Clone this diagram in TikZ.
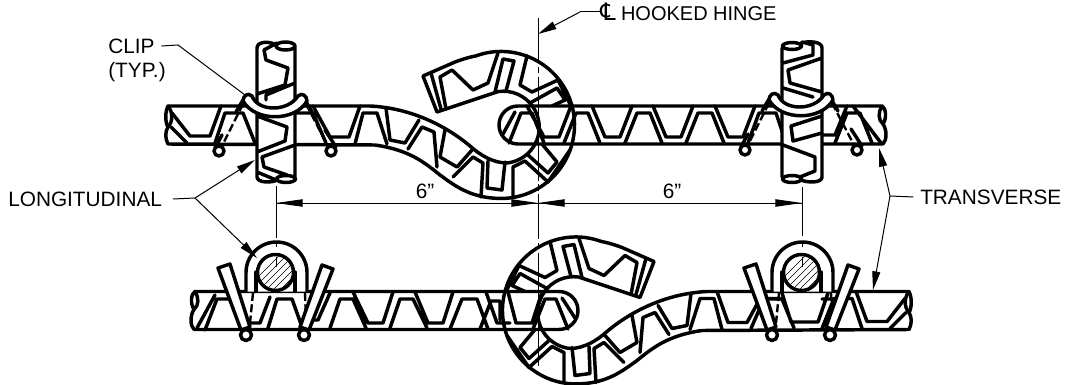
\documentclass[tikz,border=0pt]{standalone}
\usepackage{fontspec}
\setmainfont{Liberation Sans}
\newfontfamily\symfont{DejaVu Sans}
\usetikzlibrary{arrows.meta}
\tikzset{
  thk/.style={line width=2.6pt,line join=round,line cap=round},
  thn/.style={line width=0.75pt},
  dsh/.style={line width=1.8pt,dash pattern=on 6pt off 2.5pt},
  cl/.style={line width=0.75pt,dash pattern=on 34pt off 2.5pt on 5pt off 2.5pt},
  tag/.style={font=\fontsize{15.6}{19}\selectfont,inner sep=0pt},
  tipd/.style={-{Triangle[length=20pt,width=5.5pt]}},
  tipl/.style={-{Triangle[length=14pt,width=6pt]}}
}
% ---- outline of bar A with S-bend and hook
\newcommand{\hookoutline}{(168,106) -- (370,106) .. controls (410,108) and (445,125) .. (470,146) .. controls (480,155) and (493,163) .. (507,163)
  arc[start angle=84,end angle=-98,radius=36] -- (437,112) -- (423,76) -- (455,62) .. controls (463,59) and (470,57) .. (475.9,55.9)
  arc[start angle=-110,end angle=94,radius=73.5] .. controls (470,197) and (455,186) .. (440,175) .. controls (425,163) and (410,150) .. (375,145) -- (168,144)}
\newcommand{\hooklines}{
  \fill[white] \hookoutline .. controls (165,138) and (165,132) .. (168,127) .. controls (165,122) and (165,112) .. (168,106);
  \draw[thk]
   (172,113) -- (190,136) -- (210,136) -- (221,106)
   (171,127) -- (187,143)
   (215,143) -- (225,113) -- (243,113) -- (255,143)
   (296,113) -- (313,113) -- (326,143)
   (313,106) -- (330,137) -- (349,137) -- (360,106)
   (355,144) -- (363,113) -- (377,113) -- (387,144)
   (386,108) -- (390,140) -- (405,143) -- (419,120)
   (408,149) -- (422,127) -- (434,132) -- (437,167)
   (445,130) -- (440,157) -- (457,167) -- (472,150)
   (453,177) -- (473,157) -- (483,163) -- (481,197)
   (488,161) -- (487,188) -- (502,190) -- (505,162)
   (513,197) -- (513,167) -- (525,161) -- (548,182) -- (570,150)
   (528,155) -- (548,173) -- (557,162) -- (542,144)
   (527,56) -- (520,85) -- (532,92) -- (558,80) -- (571,106)
   (530,103) -- (557,88) -- (565,100) -- (552,106)
   (495,92) -- (503,59) -- (514,61) -- (506,91)
   (446,109) -- (440,77) -- (452,70) -- (473,90) -- (488,83) -- (498,53)
   (431,73) -- (441,109);
}
% ---- bar B outline: rounded left end, broken right end
\newcommand{\barB}{
  \fill[white] (518,106) arc[start angle=-90,end angle=-270,radius=19] -- (884,144) -- (884,106) -- cycle;
  \draw[thk] (883,144) -- (518,144) arc[start angle=90,end angle=270,radius=19] -- (882,106)
     .. controls (886,108) and (887,118) .. (883,124) .. controls (887,130) and (887,140) .. (883,144)
     (882,106) .. controls (878,112) and (878,120) .. (883,124);
}
\newcommand{\hookdraw}{
  \draw[thk] \hookoutline .. controls (165,138) and (165,132) .. (168,127) .. controls (165,122) and (165,112) .. (168,106);
  \draw[thk] (168,106) .. controls (173,112) and (173,122) .. (168,127);
}
% ---- clip of the top view
\newcommand{\clipband}{
  \draw[dsh] (243,104) -- (222,146);
  \draw[dsh] (306,104) -- (328,146);
  \draw[thk] (243,100) -- (236,112) (305,100) -- (312,112) (215,148) -- (222,135) (336,147) -- (325,130);
  \draw[thk,fill=white] (219,151) circle[radius=5];
  \draw[thk,fill=white] (331,151) circle[radius=5];
  \draw[thk,fill=white] (243,101) .. controls (243,96) and (248,92) .. (252,96) .. controls (258,112) and (288,112) .. (298,96)
     .. controls (302,92) and (307,96) .. (307,101) .. controls (295,122) and (255,122) .. (243,101) -- cycle;
}
% ---- section of the longitudinal bar with clip, bottom view
\newcommand{\sectionview}{
  \draw[dsh] (253,293) -- (250,323) (305,293) -- (306,320);
  \draw[thk,fill=white] (218,268) -- (230,264) -- (250,327) -- (241,330) -- cycle;
  \draw[thk,fill=white] (322,265) -- (333,269) -- (309,330) -- (300,327) -- cycle;
  \draw[thk,fill=white] (246,335) circle[radius=5.5];
  \draw[thk,fill=white] (304,335) circle[radius=5.5];
  \draw[thk,fill=white] (246,291.5) -- (246,272.5) arc[start angle=180,end angle=360,radius=30.5] -- (307,291.5);
  \draw[thk] (256,272) -- (256,291.5) (295,272) -- (295,291.5);
  \draw[thk,fill=white] (275.5,272.5) circle[radius=18];
  \begin{scope}
    \clip (275.5,272.5) circle[radius=16.5];
    \foreach \k in {0,7,...,63}
      \draw[line width=0.5pt] (235+\k,300) -- (285+\k,250);
  \end{scope}
  \draw[thn] (276,242) -- (276,247) (276,257) -- (276,267);
}
\begin{document}
\begin{tikzpicture}[x=0.75pt,y=-0.75pt]
\fill[white] (0,0) rectangle (1065,385);
\path[use as bounding box] (0,0) rectangle (1065,385);

% ================= top view
\hooklines
\barB
\draw[thk]
  (503,134) -- (515,112)
  (509,143) -- (521,113) -- (532,113) -- (544,143)
  (527,106) -- (544,137) -- (559,137) -- (571,106)
  (564,143) -- (576,113) -- (588,113) -- (600,143)
  (592,106) -- (605,137) -- (620,137) -- (632,106)
  (625,143) -- (637,113) -- (650,113) -- (662,143)
  (653,106) -- (666,137) -- (681,137) -- (693,106)
  (686,143) -- (698,113) -- (712,113) -- (724,143)
  (715,106) -- (728,137) -- (743,137) -- (755,106)
  (748,143) -- (759,113) -- (776,113) -- (786,143)
  (822,135) -- (835,135) -- (847,106)
  (835,143) -- (847,113) -- (860,113) -- (872,143)
  (853,106) -- (881,143);
\hookdraw

% left rod
\fill[white] (257,44) rectangle (295,181);
\draw[thk] (257,48) -- (257,177) (295,47) -- (295,178)
  (257,48) .. controls (257,41) and (270,41) .. (276,45)
  (285.5,46) ellipse[x radius=9.5,y radius=4]
  (257,177) .. controls (257,183) and (272,183) .. (277,180)
  (286,179) ellipse[x radius=9.5,y radius=3.5]
  (277,43) -- (264,50) -- (266,60) -- (288,68) -- (285,85) -- (257,94)
  (295,83) -- (266,95) -- (266,100)
  (257,116) -- (287,127) -- (285,141) -- (257,152)
  (295,145) -- (262,157) -- (264,167) -- (287,175)
  (257,172) -- (276,180);
\clipband

% right rod
\fill[white] (782,44) rectangle (822,181);
\draw[thk] (782,48) -- (782,177) (822,48) -- (822,177)
  (792,46) ellipse[x radius=9.5,y radius=3.5]
  (801,43) .. controls (808,41) and (822,41) .. (822,48)
  (792,179) ellipse[x radius=9.5,y radius=3.5]
  (801,180) .. controls (808,183) and (822,183) .. (822,177)
  (783,63) -- (813,55) -- (813,45) -- (802,42)
  (822,92) -- (790,83) -- (788,70) -- (822,58)
  (783,88) -- (813,97)
  (822,116) -- (791,126) -- (793,141) -- (822,133)
  (783,145) -- (815,157) -- (815,171) -- (800,177);
\begin{scope}[shift={(526,-1)}]
  \clipband
\end{scope}

% ================= bottom view
\begin{scope}[shift={(1077,185.5)},xscale=-1]
  \hooklines
\end{scope}
\draw[thk]
  (782,293) -- (791,322) -- (818,322) -- (828,293)
  (770,299) -- (782,299) -- (794,328)
  (822,299) -- (835,299);
\begin{scope}[shift={(1077,185.5)},xscale=-1]
  \barB
\end{scope}
\draw[thk]
  (197,328) -- (215,295)
  (205,330) -- (217,299) -- (230,299) -- (241,325)
  (245,323) -- (260,323) -- (270,297)
  (268,328) -- (277,299) -- (292,299) -- (302,327)
  (307,320) -- (318,320) -- (330,293)
  (330,328) -- (340,299) -- (353,299) -- (366,328)
  (353,292) -- (368,323) -- (383,323) -- (393,292)
  (390,328) -- (400,299) -- (413,299) -- (427,328)
  (415,292) -- (428,323) -- (443,323) -- (453,292)
  (450,329) -- (462,299) -- (477,299) -- (488,329)
  (480,329) -- (491,301) -- (500,301) -- (500,320)
  (486,292) -- (497,323) -- (510,323)
  (508,292) -- (516,323) -- (532,323) -- (542,292)
  (533,329) -- (545,299) -- (556,299) -- (568,329)
  (562,298) -- (575,318);
\begin{scope}[shift={(1077,185.5)},xscale=-1]
  \hookdraw
\end{scope}
\sectionview
\begin{scope}[shift={(526,0)}]
  \sectionview
\end{scope}

% ================= centre lines
\coordinate (cltop) at (538,18);
\coordinate (clbot) at (538,366);
\draw[cl] (cltop) -- (clbot);
\coordinate (lrodA) at (276,186);
\coordinate (lrodB) at (276,238);
\coordinate (rrodA) at (802,187);
\coordinate (rrodB) at (802,236);
\draw[thn] (lrodA) -- (lrodB) (rrodA) -- (rrodB);

% ================= dimensions
\coordinate (dimL) at (276,203);
\coordinate (dimM) at (538,203);
\coordinate (dimR) at (802,203);
\draw[thn,tipd] (dimM) -- (dimL);
\draw[thn,tipd] (dimL) -- (dimM);
\draw[thn,tipd] (dimM) -- (dimR);
\draw[thn,tipd] (dimR) -- (dimM);
\node[tag] (dimone) at (425,191) {6\char34};
\node[tag] (dimtwo) at (672,191) {6\char34};

% ================= labels
\node[tag,anchor=west] (clip) at (108,46) {CLIP};
\node[tag,anchor=west] (typ) at (108,72) {(TYP.)};
\coordinate (clipbend) at (178,45);
\coordinate (cliptip) at (245,95);
\draw[thn] ([xshift=5pt]clip.east) -- (clipbend) -- (cliptip);

\node[tag,anchor=west] (longi) at (8,199) {LONGITUDINAL};
\coordinate (lbend) at (195,198);
\coordinate (ltipA) at (255,160);
\coordinate (ltipB) at (257,258);
\draw[thn] ([xshift=8pt]longi.east) -- (lbend);
\draw[thn,tipl] (lbend) -- (ltipA);
\draw[thn,tipl] (lbend) -- (ltipB);

\node[tag,anchor=west] (trans) at (920,197) {TRANSVERSE};
\coordinate (tbend) at (890,196);
\coordinate (ttipA) at (879,148);
\coordinate (ttipB) at (873,290);
\draw[thn] ([xshift=-5pt]trans.west) -- (tbend);
\draw[thn,tipl] (tbend) -- (ttipA);
\draw[thn,tipl] (tbend) -- (ttipB);

\node[tag,anchor=west,font=\fontsize{15}{19}\selectfont] (hinge) at (600,12) {{\symfont\fontsize{18}{19}\selectfont ℄}\hspace{4pt}HOOKED HINGE};
\coordinate (hbend) at (580,12);
\coordinate (htip) at (538,34);
\draw[thn] (hinge.west) -- (hbend);
\draw[thn,tipl] (hbend) -- (htip);
\end{tikzpicture}
\end{document}
